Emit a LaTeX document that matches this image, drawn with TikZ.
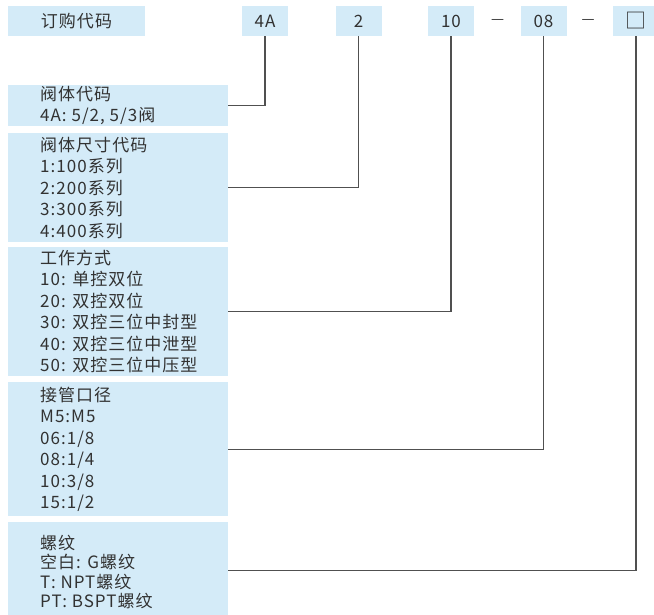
\documentclass[tikz,border=0pt]{standalone}
\usepackage{fontspec}
\setmainfont[LetterSpace=6]{Noto Sans CJK SC}
\newfontfamily\dashfont{DejaVu Sans}
\usetikzlibrary{positioning}
\definecolor{boxblue}{RGB}{212,235,248}
\definecolor{ink}{RGB}{50,50,50}
\definecolor{wire}{RGB}{80,80,80}
\begin{document}
\begin{tikzpicture}[x=1pt, y=-1pt, font=\fontsize{17}{21.5}\selectfont, text=ink,
	codebox/.style={fill=boxblue, minimum width=46pt, minimum height=30pt, inner sep=0pt},
	itembox/.style={fill=boxblue, minimum width=220pt, inner sep=0pt, anchor=north west},
	itemtext/.style={anchor=west, align=left, inner sep=0pt},
	sep/.style={font=\dashfont\fontsize{13}{13}\selectfont},
	link/.style={draw=wire, line width=1.3pt}]
	\useasboundingbox (0,0) rectangle (654,614);
	\node[codebox, minimum width=137pt] (title) at (76.5,21) {订购代码};
	\node[codebox] (c1) at (265,21) {4A};
	\node[codebox] (c2) at (358.5,21) {2};
	\node[codebox] (c3) at (451,21) {10};
	\node[codebox] (c4) at (543.5,21) {08};
	\node[codebox, font=\fontsize{21}{21}\selectfont] (c5) at (636,21) {□};
	\node[sep] (d1) at (497.5,21) {—};
	\node[sep] (d2) at (588,21) {—};
	\node[itembox, minimum height=41pt] (b1) at (8,85) {};
	\node[itemtext] (t1) at ([xshift=32pt]b1.west) {阀体代码\\4A: 5/2, 5/3阀};
	\node[itembox, minimum height=109pt] (b2) at (8,133) {};
	\node[itemtext] (t2) at ([xshift=32pt]b2.west) {阀体尺寸代码\\1:100系列\\2:200系列\\3:300系列\\4:400系列};
	\node[itembox, minimum height=129pt] (b3) at (8,247) {};
	\node[itemtext] (t3) at ([xshift=32pt]b3.west) {工作方式\\10: 单控双位\\20: 双控双位\\30: 双控三位中封型\\40: 双控三位中泄型\\50: 双控三位中压型};
	\node[itembox, minimum height=134pt] (b4) at (8,382) {};
	\node[itemtext] (t4) at ([xshift=32pt]b4.west) {接管口径\\M5:M5\\06:1/8\\08:1/4\\10:3/8\\15:1/2};
	\node[itembox, minimum height=96pt] (b5) at (8,522) {};
	\node[itemtext, font=\fontsize{17}{19.5}\selectfont] (t5) at ([xshift=32pt,yshift=-2pt]b5.west) {螺纹\\空白: G螺纹\\T: NPT螺纹\\PT: BSPT螺纹};
	\draw[link] (b1.east) -| (c1.south);
	\draw[link] (b2.east) -| (c2.south);
	\draw[link] (b3.east) -| (c3.south);
	\draw[link] (b4.east) -| (c4.south);
	\draw[link] (b5.east) -| (c5.south);
\end{tikzpicture}
\end{document}
